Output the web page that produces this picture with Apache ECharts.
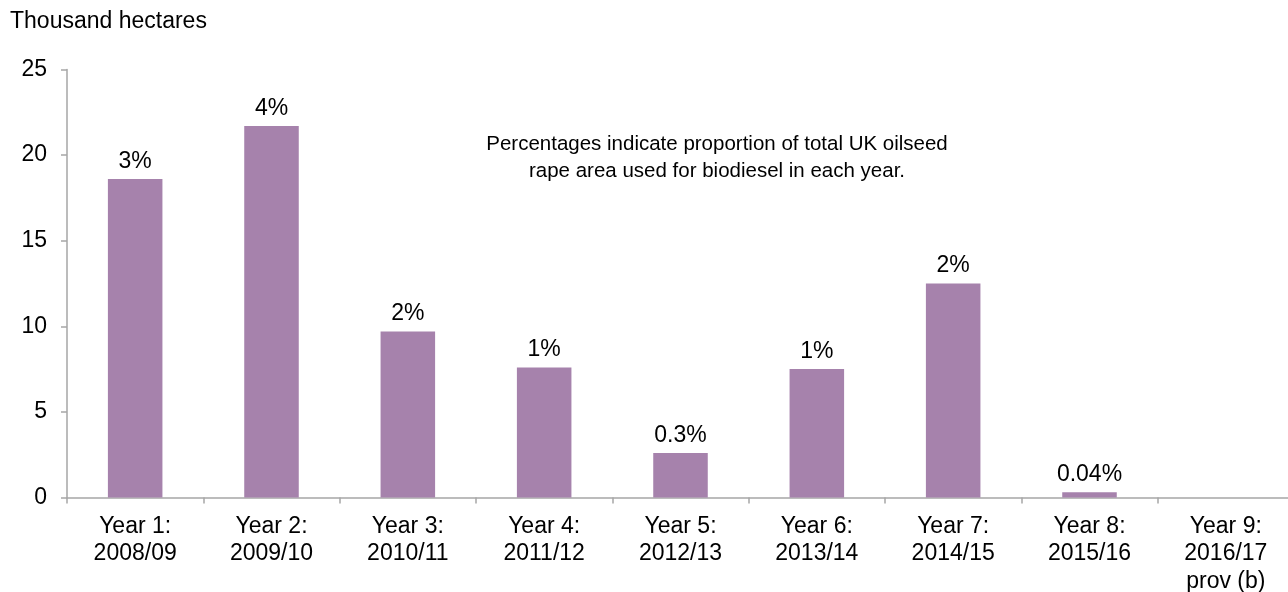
<!DOCTYPE html>
<html>
<head>
<meta charset="utf-8">
<script src="https://cdn.jsdelivr.net/npm/echarts@6/dist/echarts.min.js"></script>
<style>
  html, body { margin: 0; padding: 0; background: #fff; }
  #chart { width: 1288px; height: 592px; }
</style>
</head>
<body>
<div id="chart"></div>
<script>
// Oilseed rape area used for biodiesel, thousand hectares
const categories = [
  'Year 1:\n2008/09', 'Year 2:\n2009/10', 'Year 3:\n2010/11', 'Year 4:\n2011/12',
  'Year 5:\n2012/13', 'Year 6:\n2013/14', 'Year 7:\n2014/15', 'Year 8:\n2015/16',
  'Year 9:\n2016/17\nprov (b)'
];
const areaValues = [18.6, 21.7, 9.7, 7.6, 2.6, 7.5, 12.5, 0.3, null];
const shareLabels = ['3%', '4%', '2%', '1%', '0.3%', '1%', '2%', '0.04%', ''];
const yTicks = [0, 5, 10, 15, 20, 25];

const FONT = '"Liberation Sans", Arial, sans-serif';
const TEXT = '#000000';
const AXIS = '#a6a6a6';
const BAR = '#a682ac';
const FS = 23;

const chart = echarts.init(document.getElementById('chart'), null, { renderer: 'canvas' });

chart.setOption({
  animation: false,
  backgroundColor: '#ffffff',
  textStyle: { fontFamily: FONT, color: TEXT },
  title: {
    text: 'Thousand hectares',
    left: 5,
    top: 5,
    textStyle: { fontFamily: FONT, fontSize: FS, fontWeight: 'normal', color: TEXT }
  },
  graphic: [{
    type: 'text',
    style: {
      x: 717,
      y: 131,
      text: 'Percentages indicate proportion of total UK oilseed\nrape area used for biodiesel in each year.',
      font: '20.5px ' + FONT,
      fill: TEXT,
      align: 'center',
      verticalAlign: 'top',
      lineHeight: 27
    }
  }],
  grid: {
    left: 67, top: 69.5, width: 1227, height: 428,
    containLabel: false,
    outerBoundsMode: 'none'
  },
  xAxis: {
    type: 'category',
    data: categories,
    boundaryGap: true,
    axisLine: { lineStyle: { color: AXIS, width: 1.5 } },
    axisTick: { show: true, length: 6, alignWithLabel: false, lineStyle: { color: AXIS, width: 1.5 } },
    axisLabel: {
      interval: 0,
      margin: 15,
      fontSize: FS,
      lineHeight: 27.5,
      color: TEXT,
      fontFamily: FONT,
      align: 'center'
    },
    splitLine: { show: false }
  },
  yAxis: {
    type: 'value',
    min: yTicks[0],
    max: yTicks[yTicks.length - 1],
    interval: yTicks[1] - yTicks[0],
    axisLine: { show: true, lineStyle: { color: AXIS, width: 1.5 } },
    axisTick: { show: true, length: 6, lineStyle: { color: AXIS, width: 1.5 } },
    axisLabel: { margin: 20, fontSize: FS, color: TEXT, fontFamily: FONT },
    splitLine: { show: false }
  },
  series: [{
    type: 'bar',
    data: areaValues,
    barWidth: '40%',
    itemStyle: { color: BAR },
    label: {
      show: true,
      position: 'top',
      distance: 6,
      fontSize: FS,
      color: TEXT,
      fontFamily: FONT,
      formatter: p => shareLabels[p.dataIndex]
    }
  }]
});
</script>
</body>
</html>
